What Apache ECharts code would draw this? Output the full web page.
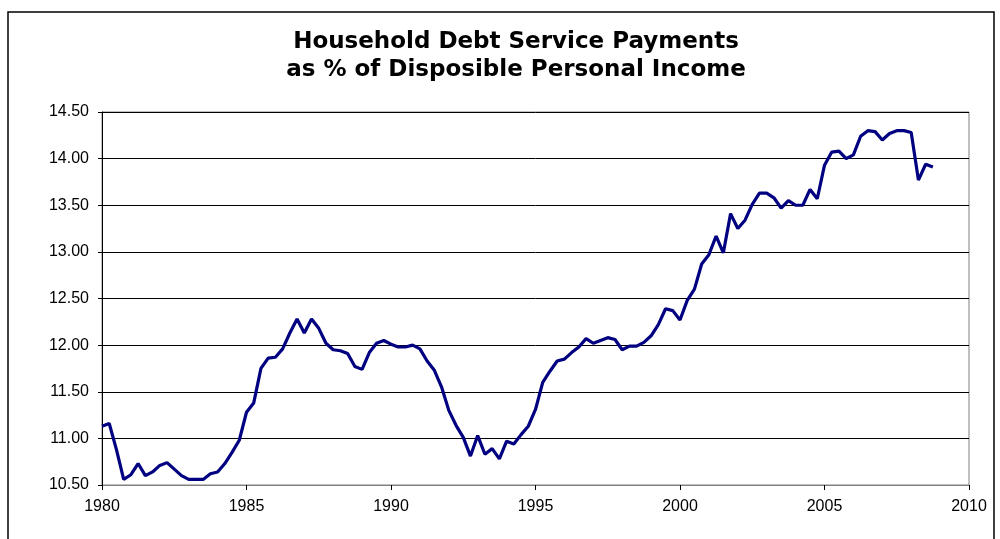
<!DOCTYPE html>
<html>
<head>
<meta charset="utf-8">
<script src="https://cdn.jsdelivr.net/npm/echarts@6/dist/echarts.min.js"></script>
<style>
  html, body { margin: 0; padding: 0; background: #fff; }
  #chart { width: 1000px; height: 539px; }
</style>
</head>
<body>
<div id="chart"></div>
<script>
// quarterly data, Q1 1980 .. Q4 2008 (4 values per year)
var years = [1980, 1981, 1982, 1983, 1984, 1985, 1986, 1987, 1988, 1989,
             1990, 1991, 1992, 1993, 1994, 1995, 1996, 1997, 1998, 1999,
             2000, 2001, 2002, 2003, 2004, 2005, 2006, 2007, 2008];
var debtService = [
    11.13, 11.16, 10.88, 10.56,   // 1980
    10.61, 10.73, 10.60, 10.64,   // 1981
    10.71, 10.74, 10.67, 10.60,   // 1982
    10.56, 10.56, 10.56, 10.62,   // 1983
    10.64, 10.73, 10.85, 10.98,   // 1984
    11.28, 11.38, 11.75, 11.86,   // 1985
    11.87, 11.96, 12.13, 12.28,   // 1986
    12.13, 12.28, 12.18, 12.02,   // 1987
    11.95, 11.94, 11.91, 11.77,   // 1988
    11.74, 11.92, 12.02, 12.05,   // 1989
    12.01, 11.98, 11.98, 12.00,   // 1990
    11.96, 11.83, 11.73, 11.55,   // 1991
    11.30, 11.14, 11.01, 10.81,   // 1992
    11.03, 10.83, 10.89, 10.78,   // 1993
    10.97, 10.94, 11.04, 11.13,   // 1994
    11.31, 11.60, 11.72, 11.83,   // 1995
    11.85, 11.92, 11.98, 12.07,   // 1996
    12.02, 12.05, 12.08, 12.06,   // 1997
    11.95, 11.99, 11.99, 12.03,   // 1998
    12.10, 12.22, 12.39, 12.37,   // 1999
    12.27, 12.48, 12.60, 12.87,   // 2000
    12.97, 13.17, 12.99, 13.41,   // 2001
    13.25, 13.34, 13.51, 13.63,   // 2002
    13.63, 13.58, 13.47, 13.55,   // 2003
    13.50, 13.50, 13.67, 13.57,   // 2004
    13.93, 14.07, 14.08, 14.00,   // 2005
    14.04, 14.24, 14.30, 14.29,   // 2006
    14.20, 14.27, 14.30, 14.30,   // 2007
    14.28, 13.77, 13.94, 13.91    // 2008
];
var yTicks = [10.5, 11, 11.5, 12, 12.5, 13, 13.5, 14, 14.5];
var xTicks = [1980, 1985, 1990, 1995, 2000, 2005, 2010];

var points = [];
for (var i = 0; i < years.length; i++) {
    for (var q = 0; q < 4; q++) {
        points.push([years[i] + q / 4, debtService[i * 4 + q]]);
    }
}

var fontFam = '"Liberation Sans", Arial, sans-serif';
var chart = echarts.init(document.getElementById('chart'), null, {renderer: 'canvas'});
var option = {
    backgroundColor: '#fff',
    animation: false,
    title: {
        text: 'Household Debt Service Payments\nas % of Disposible Personal Income',
        left: 511,
        top: 23,
        textAlign: 'center',
        textStyle: {
            fontFamily: '"DejaVu Sans", sans-serif',
            fontSize: 23,
            fontWeight: 'bold',
            color: '#000',
            lineHeight: 28
        }
    },
    graphic: [
        {
            type: 'rect',
            shape: {x: 8, y: 12, width: 986, height: 540},
            style: {fill: null, stroke: '#000', lineWidth: 1.5},
            silent: true
        }
    ],
    grid: {
        left: 102,
        right: 31,
        top: 112,
        bottom: 54,
        show: true,
        borderColor: '#808080',
        borderWidth: 1,
        backgroundColor: 'transparent'
    },
    xAxis: {
        type: 'value',
        min: xTicks[0],
        max: xTicks[xTicks.length - 1],
        interval: 5,
        axisLine: {show: true, onZero: false, lineStyle: {color: '#808080', width: 1}},
        axisTick: {show: true, inside: false, length: 5, lineStyle: {color: '#000'}},
        axisLabel: {
            color: '#000',
            fontFamily: fontFam,
            fontSize: 16,
            margin: 14,
            formatter: function (v) { return String(v); }
        },
        splitLine: {show: false}
    },
    yAxis: {
        type: 'value',
        min: yTicks[0],
        max: yTicks[yTicks.length - 1],
        interval: 0.5,
        axisLine: {show: true, lineStyle: {color: '#000', width: 1}},
        axisTick: {show: true, inside: false, length: 4, lineStyle: {color: '#000'}},
        axisLabel: {
            color: '#000',
            fontFamily: fontFam,
            fontSize: 16,
            margin: 13,
            formatter: function (v) { return v.toFixed(2); }
        },
        splitLine: {show: true, lineStyle: {color: '#000', width: 1}}
    },
    series: [
        {
            name: 'Debt Service',
            type: 'line',
            data: points,
            showSymbol: false,
            symbol: 'none',
            lineStyle: {color: '#000080', width: 3.2},
            z: 5
        }
    ]
};
chart.setOption(option);
</script>
</body>
</html>
